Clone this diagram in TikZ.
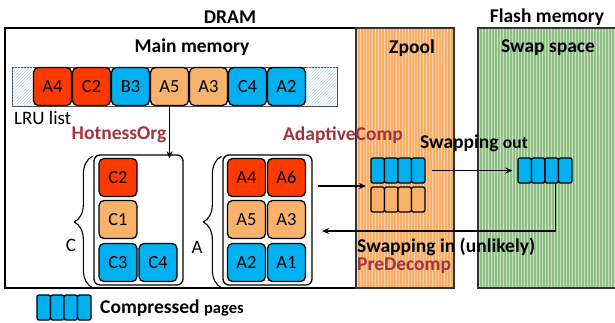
\documentclass[tikz,border=0pt]{standalone}
\usepackage{fontspec}
\setmainfont{Carlito}
\usetikzlibrary{patterns,decorations.pathreplacing,arrows.meta}
\definecolor{cred}{HTML}{FF3A00}
\definecolor{corange}{HTML}{F8B26C}
\definecolor{cblue}{HTML}{00B0F0}
\definecolor{ctitle}{HTML}{A3323F}
\definecolor{zbase}{HTML}{F6AD66}
\definecolor{zlight}{HTML}{FBD0A6}
\definecolor{gbase}{HTML}{8FBF86}
\definecolor{glight}{HTML}{C9E2BF}
\definecolor{hatch}{HTML}{BFD9EF}
\tikzset{
  cell/.style={draw=black,line width=1.3pt,rounded corners=5pt,minimum width=38pt,minimum height=38pt,inner sep=0pt,font=\fontsize{18.5}{20}\selectfont},
  redc/.style={cell,fill=cred},
  orac/.style={cell,fill=corange},
  bluc/.style={cell,fill=cblue},
  grp/.style={draw=black,line width=1.3pt,rounded corners=6pt,inner sep=0pt},
  mini/.style={draw=black,line width=1.3pt,rounded corners=2pt,minimum width=13.5pt,minimum height=25pt,inner sep=0pt},
  lbl/.style={font=\fontsize{19.5}{21}\selectfont\bfseries,inner sep=0pt},
  red lbl/.style={lbl,text=ctitle},
  txt/.style={font=\fontsize{19}{20}\selectfont,inner sep=0pt},
  arr/.style={-{Stealth[length=7pt,width=6pt]},line width=1.2pt},
  brc/.style={decorate,decoration={brace,amplitude=18pt,mirror},line width=1.1pt}
}
\begin{document}
\begin{tikzpicture}[x=1pt,y=-1pt]
\useasboundingbox (0,0) rectangle (615,322);
% Zpool stripes
\fill[zbase] (356,28) rectangle (454,288);
\begin{scope}
\clip (356,28) rectangle (454,288);
\foreach \x in {357,360,...,455} \fill[zlight] (\x,28) rectangle ++(1.2,260);
\end{scope}
% flash stripes
\fill[gbase] (478,28) rectangle (616,288);
\begin{scope}
\clip (478,28) rectangle (616,288);
\foreach \x in {479,482,...,617} \fill[glight] (\x,28) rectangle ++(1.2,260);
\end{scope}
\node[draw=black,line width=1.3pt,minimum width=351pt,minimum height=260pt,inner sep=0pt] (dram) at (180.5,158) {};
\node[draw=black!80,line width=1.3pt,minimum width=98pt,minimum height=260pt,inner sep=0pt] (zpool) at (405,158) {};
\node[draw=black!80,line width=1.3pt,minimum width=140pt,minimum height=260pt,inner sep=0pt] (flash) at (548,158) {};
\node[lbl] (tdram) at (230,17) {DRAM};
\node[lbl] (tflash) at (547,17) {Flash memory};
\node[lbl] (tmain) at (192,47) {Main memory};
\node[lbl] (tzpool) at (412,48) {Zpool};
\node[lbl] (tswap) at (548,48) {Swap space};
% LRU list bar
\node[draw=black!70,line width=1pt,minimum width=325pt,minimum height=39pt,inner sep=0pt] (lru) at (174.5,86.5) {};
\fill[pattern=north east lines,pattern color=hatch] (12.6,67.6) rectangle (33,105.4);
\fill[pattern=north east lines,pattern color=hatch] (306,67.6) rectangle (336.4,105.4);
\node[redc] (l1) at (52.5,86.5) {A4};
\node[redc] (l2) at (91.5,86.5) {C2};
\node[bluc] (l3) at (130.5,86.5) {B3};
\node[orac] (l4) at (169.5,86.5) {A5};
\node[orac] (l5) at (208.5,86.5) {A3};
\node[bluc] (l6) at (247.5,86.5) {C4};
\node[bluc] (l7) at (286.5,86.5) {A2};
\node[txt,anchor=west] (tlru) at (14,118) {LRU list};
\node[red lbl] (thot) at (119,135) {HotnessOrg};
\node[red lbl] (tadapt) at (343,135) {AdaptiveComp};
% group C
\node[grp,minimum width=89pt,minimum height=130pt] (gC) at (138.5,220) {};
\node[redc] (c2) at (118,177.5) {C2};
\node[orac] (c1) at (118,219.5) {C1};
\node[bluc] (c3) at (118,262.5) {C3};
\node[bluc] (c4) at (158,262.5) {C4};
% group A
\node[grp,minimum width=89pt,minimum height=130pt] (gA) at (267.5,220) {};
\node[redc] (a4) at (246.5,177.5) {A4};
\node[redc] (a6) at (286.5,177.5) {A6};
\node[orac] (a5) at (246.5,219.5) {A5};
\node[orac] (a3) at (286.5,219.5) {A3};
\node[bluc] (a2) at (246.5,262.5) {A2};
\node[bluc] (a1) at (286.5,262.5) {A1};
% braces
\draw[brc] (gC.north west) ++(-1,2) coordinate (bc1) -- ([yshift=-2pt,xshift=-1pt]gC.south west) coordinate (bc2);
\draw[brc] (gA.north west) ++(-1,2) coordinate (ba1) -- ([yshift=-2pt,xshift=-1pt]gA.south west) coordinate (ba2);
\node[txt] (tC) at (71,245) {C};
\node[txt] (tA) at (197,247) {A};
% zpool stacks
\foreach \i in {0,1,2,3} {
  \node[mini,fill=cblue] (zb\i) at (377.75+13.5*\i,170.5) {};
  \node[mini,fill=corange] (zo\i) at (377.75+13.5*\i,199.5) {};
  \node[mini,fill=cblue] (fb\i) at (524.75+13.5*\i,170.5) {};
  \node[mini,fill=cblue] (lg\i) at (43.75+13.5*\i,307.5) {};
}
% arrows
\draw[arr] (l4.south) -- ([yshift=-4pt]l4.south |- gC.north);
\coordinate (inA) at (366,186);
\draw[arr] ([xshift=5pt]gA.east |- inA) -- (inA);
\draw[arr] ([xshift=6pt]zb3.east) -- ([xshift=-5pt]fb0.west);
\coordinate (retA) at (322,231);
\draw[arr] ([xshift=4pt]fb2.south) |- (retA);
\node[lbl,anchor=base] (tout) at (474,148) {Swapping {\fontsize{17.5}{18}\selectfont out}};
\node[lbl,anchor=west] (tin) at (357,247) {Swapping in (unlikely)};
\node[red lbl,anchor=west] (tpre) at (357,266) {PreDecomp};
\node[lbl,anchor=west] (tleg) at (100,308) {Compressed {\fontsize{16.5}{18}\selectfont pages}};
\end{tikzpicture}
\end{document}
